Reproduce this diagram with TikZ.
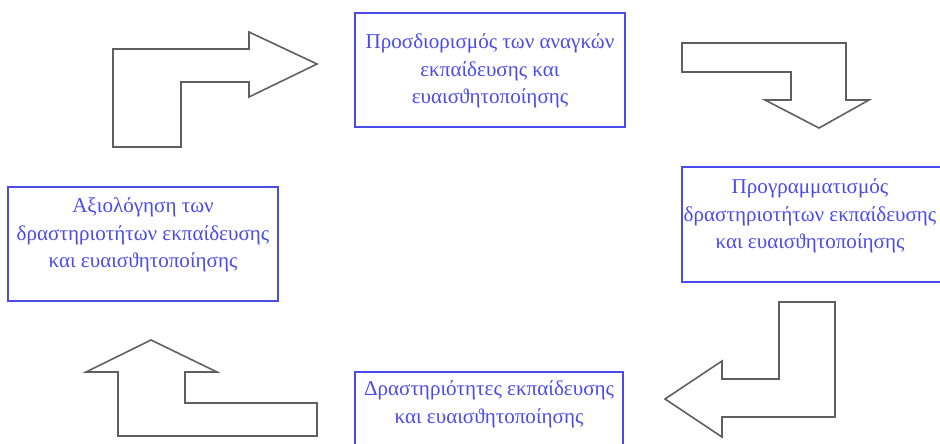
\documentclass[tikz,border=0pt]{standalone}
\usepackage{fontspec}
\setmainfont{Liberation Serif}
\definecolor{boxblue}{RGB}{75,75,235}
\definecolor{arrowgray}{RGB}{95,95,95}
\tikzset{
	stage/.style={draw=boxblue,line width=1.1pt},
	stagetext/.style={text=boxblue,align=center,font=\fontsize{12}{15.8}\selectfont},
	bigarrow/.style={draw=arrowgray,line width=0.9pt,line join=miter}
}
\begin{document}
\begin{tikzpicture}[x=0.02cm,y=-0.02cm]
		\clip (0,0) rectangle (940,443);
		\draw[stage] (355,13) rectangle (625,127);
		\node[stagetext] (needs) at (490,71) {Προσδιορισμός των αναγκών\\εκπαίδευσης και\\ευαισϑητοποίησης};
		\draw[stage] (682,167) rectangle (946,282);
		\node[stagetext] (plan) at (810,216) {Προγραμματισμός\\δραστηριοτήτων εκπαίδευσης\\και ευαισϑητοποίησης};
		\draw[stage] (355,372) rectangle (623,450);
		\node[stagetext] (acts) at (489,404) {Δραστηριότητες εκπαίδευσης\\και ευαισϑητοποίησης};
		\draw[stage] (8,187) rectangle (278,301);
		\node[stagetext] (eval) at (143,235) {Αξιολόγηση των\\δραστηριοτήτων εκπαίδευσης\\και ευαισϑητοποίησης};
		\draw[bigarrow] (113,147)--(113,49)--(249,49)--(249,32)--(317,64)--(249,97)--(249,82)--(181,82)--(181,147)--cycle;
		\draw[bigarrow] (682,43)--(846,43)--(846,100)--(869,100)--(819,128)--(765,100)--(791,100)--(791,72)--(682,72)--cycle;
		\draw[bigarrow] (779,302)--(835,302)--(835,417)--(722,417)--(722,437)--(665,399)--(722,361)--(722,379)--(779,379)--cycle;
		\draw[bigarrow] (151,340)--(217,372)--(185,372)--(185,403)--(317,403)--(317,436)--(118,436)--(118,372)--(86,372)--cycle;
	\end{tikzpicture}
\end{document}
